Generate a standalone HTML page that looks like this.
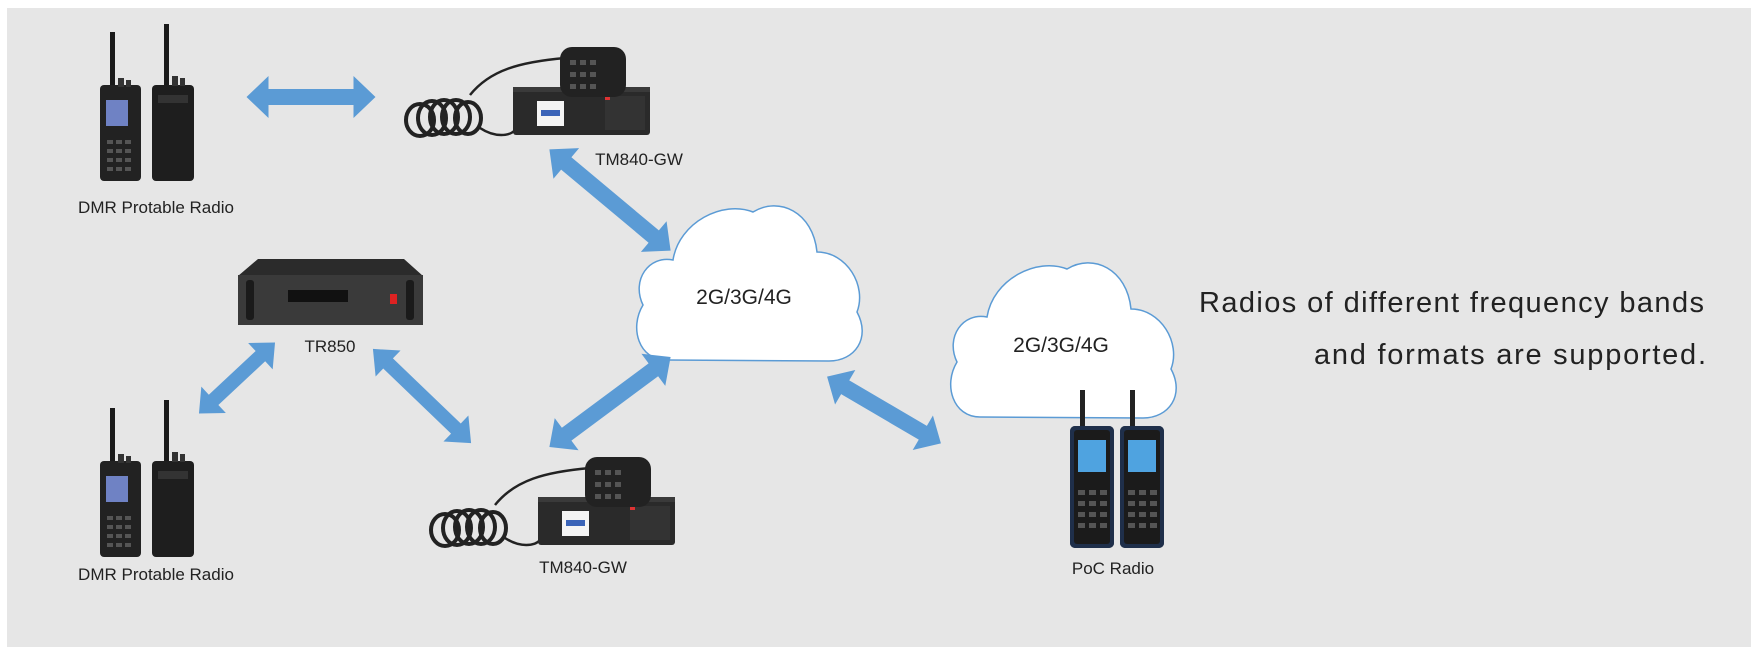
<!DOCTYPE html>
<html><head><meta charset="utf-8"><style>
html,body{margin:0;padding:0;background:#fff;}
svg{display:block;}
text{font-family:"Liberation Sans",sans-serif;fill:#222;}
</style></head><body>
<svg width="1758" height="655" viewBox="0 0 1758 655" xmlns="http://www.w3.org/2000/svg">
<rect x="7" y="8" width="1744" height="639" fill="#e6e6e6"/>
<defs>
<g id="hh">
  <rect x="110" y="32" width="5" height="55" fill="#1a1a1a"/>
  <rect x="100" y="85" width="41" height="96" rx="4" fill="#222"/>
  <rect x="106" y="100" width="22" height="26" fill="#6f82c4"/>
  <g fill="#555"><rect x="107" y="140" width="6" height="4"/><rect x="116" y="140" width="6" height="4"/><rect x="125" y="140" width="6" height="4"/>
  <rect x="107" y="149" width="6" height="4"/><rect x="116" y="149" width="6" height="4"/><rect x="125" y="149" width="6" height="4"/>
  <rect x="107" y="158" width="6" height="4"/><rect x="116" y="158" width="6" height="4"/><rect x="125" y="158" width="6" height="4"/>
  <rect x="107" y="167" width="6" height="4"/><rect x="116" y="167" width="6" height="4"/><rect x="125" y="167" width="6" height="4"/></g>
  <rect x="118" y="78" width="6" height="9" fill="#333"/><rect x="126" y="80" width="5" height="7" fill="#333"/>
  <rect x="164" y="24" width="5" height="63" fill="#1a1a1a"/>
  <rect x="152" y="85" width="42" height="96" rx="4" fill="#1e1e1e"/>
  <rect x="158" y="95" width="30" height="8" fill="#333"/>
  <rect x="172" y="76" width="6" height="10" fill="#333"/><rect x="180" y="78" width="5" height="8" fill="#333"/>
</g>
<g id="mob">
  <path d="M470,95 C490,70 520,62 565,58" stroke="#222" stroke-width="2.5" fill="none"/>
  <g fill="none" stroke="#222" stroke-width="4">
   <ellipse cx="420" cy="120" rx="14" ry="16"/><ellipse cx="432" cy="118" rx="14" ry="17"/><ellipse cx="444" cy="117" rx="14" ry="17"/><ellipse cx="456" cy="117" rx="14" ry="17"/><ellipse cx="468" cy="118" rx="13" ry="16"/>
  </g>
  <path d="M480,128 C495,138 510,136 515,130" stroke="#222" stroke-width="2.5" fill="none"/>
  <rect x="513" y="87" width="137" height="48" rx="3" fill="#2a2a2a"/>
  <rect x="513" y="87" width="137" height="5" fill="#3a3a3a"/>
  <rect x="537" y="101" width="27" height="25" fill="#f4f4f4"/>
  <rect x="541" y="110" width="19" height="6" fill="#3b64b8"/>
  <rect x="605" y="96" width="40" height="34" fill="#333"/>
  <rect x="605" y="95" width="5" height="5" fill="#d33"/>
  <rect x="560" y="47" width="66" height="50" rx="12" fill="#222"/>
  <g fill="#555"><rect x="570" y="60" width="6" height="5"/><rect x="580" y="60" width="6" height="5"/><rect x="590" y="60" width="6" height="5"/><rect x="570" y="72" width="6" height="5"/><rect x="580" y="72" width="6" height="5"/><rect x="590" y="72" width="6" height="5"/><rect x="570" y="84" width="6" height="5"/><rect x="580" y="84" width="6" height="5"/><rect x="590" y="84" width="6" height="5"/></g>
</g>
<g id="poc">
  <rect x="0" y="0" width="5" height="38" fill="#222"/>
  <rect x="-10" y="36" width="44" height="122" rx="5" fill="#1f2f4a"/>
  <rect x="-6" y="40" width="36" height="114" rx="3" fill="#1b1b1b"/>
  <rect x="-2" y="50" width="28" height="32" fill="#4fa3e0"/>
  <g fill="#555"><rect x="-2" y="100" width="7" height="5"/><rect x="9" y="100" width="7" height="5"/><rect x="20" y="100" width="7" height="5"/><rect x="-2" y="111" width="7" height="5"/><rect x="9" y="111" width="7" height="5"/><rect x="20" y="111" width="7" height="5"/><rect x="-2" y="122" width="7" height="5"/><rect x="9" y="122" width="7" height="5"/><rect x="20" y="122" width="7" height="5"/><rect x="-2" y="133" width="7" height="5"/><rect x="9" y="133" width="7" height="5"/><rect x="20" y="133" width="7" height="5"/></g>
</g>
<path id="cloud" d="M35,160 C8,160 -2,128 12,105 C0,80 18,55 42,60 C48,22 92,0 122,12 C148,-4 182,12 186,52 C216,52 236,86 226,112 C240,138 224,161 198,161 Z"/>
</defs>

<use href="#hh"/>
<use href="#hh" transform="translate(0,376)"/>
<use href="#mob"/>
<use href="#mob" transform="translate(25,410)"/>

<!-- TR850 -->
<polygon points="258,259 404,259 423,276 238,276" fill="#2b2b2b"/>
<rect x="238" y="275" width="185" height="50" fill="#3a3a3a"/>
<rect x="246" y="280" width="8" height="40" rx="3" fill="#1a1a1a"/>
<rect x="406" y="280" width="8" height="40" rx="3" fill="#1a1a1a"/>
<rect x="288" y="290" width="60" height="12" fill="#111"/>
<rect x="390" y="294" width="7" height="10" fill="#d22"/>

<use href="#poc" transform="translate(1080,390)"/>
<use href="#poc" transform="translate(1130,390)"/>

<!-- clouds -->
<use href="#cloud" transform="translate(631,200)" fill="#fff" stroke="#5b9bd5" stroke-width="1.5"/>
<use href="#cloud" transform="translate(945,257)" fill="#fff" stroke="#5b9bd5" stroke-width="1.5"/>
<use href="#poc" transform="translate(1080,390)"/>
<use href="#poc" transform="translate(1130,390)"/>

<!-- arrows -->
<g fill="#5b9bd5">
<polygon transform="translate(311,97)" points="-64.5,0 -42.5,-21 -42.5,-8 42.5,-8 42.5,-21 64.5,0 42.5,21 42.5,8 -42.5,8 -42.5,21"/>
<polygon transform="translate(610,200) rotate(39.9)" points="-79,0 -57,-20 -57,-8 57,-8 57,-20 79,0 57,20 57,8 -57,8 -57,20"/>
<polygon transform="translate(237,378) rotate(-43)" points="-52,0 -32,-18 -32,-7 32,-7 32,-18 52,0 32,18 32,7 -32,7 -32,18"/>
<polygon transform="translate(422,396) rotate(43.8)" points="-68,0 -47,-18 -47,-7 47,-7 47,-18 68,0 47,18 47,7 -47,7 -47,18"/>
<polygon transform="translate(610,402) rotate(-36.6)" points="-75.5,0 -54,-20 -54,-8 54,-8 54,-20 75.5,0 54,20 54,8 -54,8 -54,20"/>
<polygon transform="translate(884,410) rotate(30.4)" points="-66,0 -45,-20 -45,-8 45,-8 45,-20 66,0 45,20 45,8 -45,8 -45,20"/>
</g>

<text x="156" y="213" font-size="17" text-anchor="middle">DMR Protable Radio</text>
<text x="156" y="580" font-size="17" text-anchor="middle">DMR Protable Radio</text>
<text x="639" y="165" font-size="17" text-anchor="middle">TM840-GW</text>
<text x="583" y="573" font-size="17" text-anchor="middle">TM840-GW</text>
<text x="330" y="352" font-size="17" text-anchor="middle">TR850</text>
<text x="1113" y="574" font-size="17" text-anchor="middle">PoC Radio</text>
<text x="744" y="304" font-size="21" text-anchor="middle">2G/3G/4G</text>
<text x="1061" y="352" font-size="21" text-anchor="middle">2G/3G/4G</text>
<text x="1704" y="312" font-size="29" text-anchor="end" textLength="505" fill="#333">Radios of different frequency bands</text>
<text x="1706" y="364" font-size="29" text-anchor="end" textLength="392" fill="#333">and formats are supported.</text>
</svg>
</body></html>
